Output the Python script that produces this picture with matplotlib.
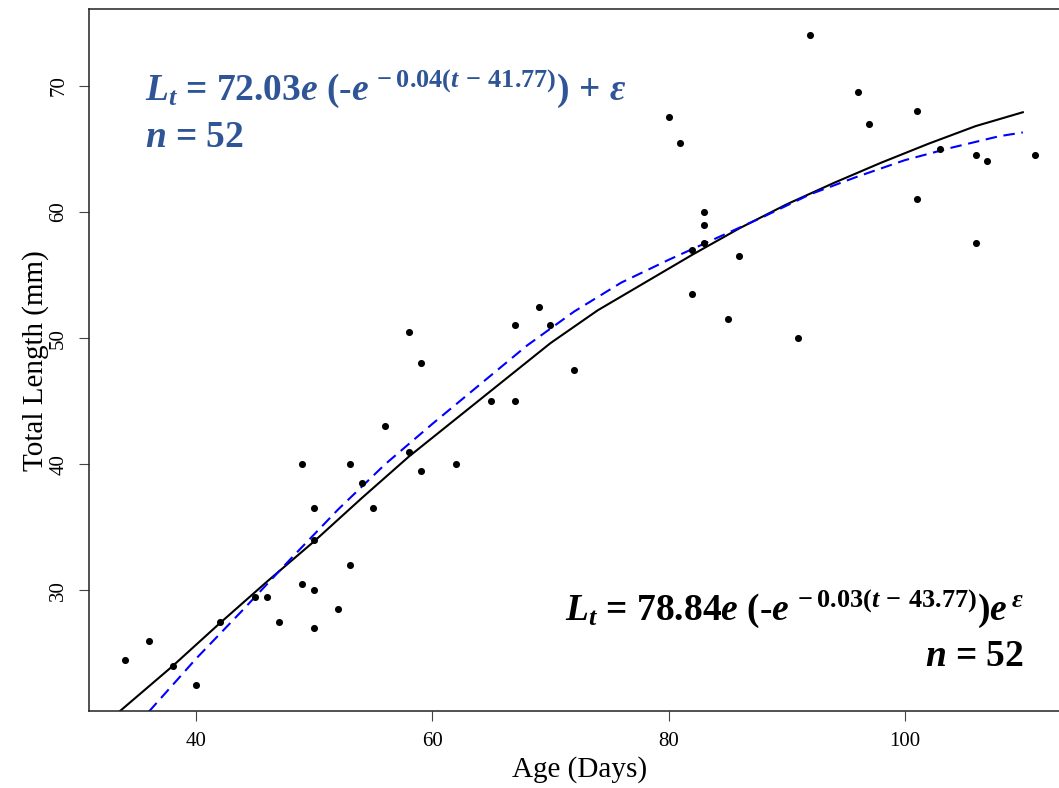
import matplotlib
matplotlib.use("Agg")
import matplotlib.pyplot as plt

plt.rcParams['font.family'] = ['Liberation Serif', 'DejaVu Serif']
plt.rcParams['mathtext.fontset'] = 'custom'
plt.rcParams['mathtext.rm'] = 'Liberation Serif:bold'
plt.rcParams['mathtext.it'] = 'Liberation Serif:bold:italic'
plt.rcParams['mathtext.bf'] = 'Liberation Serif:bold'

# observed fish: age (days) vs total length (mm)
age = [34, 36, 38, 40, 42, 45, 46, 47, 49, 49, 50, 50, 50, 50, 52, 53, 53,
       54, 55, 56, 58, 58, 59, 59, 62, 65, 67, 67, 69, 70, 72, 80, 81, 82,
       82, 83, 83, 83, 85, 86, 91, 92, 96, 97, 101, 101, 103, 106, 106, 107, 111]
length = [24.5, 26, 24, 22.5, 27.5, 29.5, 29.5, 27.5, 40, 30.5, 36.5, 34, 30, 27,
          28.5, 40, 32, 38.5, 36.5, 43, 41, 50.5, 48, 39.5, 40, 45, 45, 51, 52.5,
          51, 47.5, 67.5, 65.5, 57, 53.5, 60, 59, 57.5, 51.5, 56.5, 50, 74, 69.5,
          67, 68, 61, 65, 64.5, 57.5, 64, 64.5]

# fitted curve: multiplicative error model (solid black)
mult_age = [33.5, 38, 42, 46, 50, 54, 58, 62, 66, 70, 74, 78, 82, 86, 90, 94,
            98, 102, 106, 110]
mult_len = [20.4, 24.0, 27.4, 30.7, 33.9, 37.3, 40.6, 43.6, 46.6, 49.6, 52.2,
            54.4, 56.6, 58.7, 60.6, 62.3, 63.9, 65.4, 66.8, 67.9]

# additive error model (dashed blue)
add_age = [36, 40, 44, 48, 52, 56, 60, 64, 68, 72, 76, 80, 84, 88, 92, 96,
           100, 104, 108, 110]
add_len = [20.4, 24.6, 28.5, 32.5, 36.4, 40.0, 43.2, 46.3, 49.4, 52.1, 54.4,
           56.2, 57.9, 59.6, 61.4, 62.8, 64.1, 65.1, 66.0, 66.3]

W, H = 1059, 788
fig = plt.figure(figsize=(W / 100, H / 100), dpi=100)
ax = fig.add_axes([89 / W, 1 - 711 / H, (1071 - 89) / W, (711 - 9.3) / H])

ax.plot(mult_age, mult_len, color='black', lw=1.5, zorder=2)
ax.plot(add_age, add_len, color='blue', lw=1.5, dashes=(5.5, 3.2), zorder=2)
ax.scatter(age, length, s=26, color='black', zorder=3, linewidths=0)

ax.set_xlim(30.92, 114.08)
ax.set_ylim(20.44, 76.06)
ax.set_xticks([40, 60, 80, 100])
ax.set_yticks([30, 40, 50, 60, 70])
ax.tick_params(direction='out', length=7, width=0.8, color='#444444',
               labelsize=15, pad=8)
for lab in ax.get_yticklabels():
    lab.set_rotation(90)
    lab.set_va('center')
for sp in ax.spines.values():
    sp.set_linewidth(1.1)
    sp.set_color('#222222')

ax.set_xlabel('Age (Days)', fontsize=21, labelpad=4)
ax.set_ylabel('Total Length (mm)', fontsize=21, labelpad=0)

blue = '#2f5597'
eq_add = r'$L_t$ = 72.03$e$ (-$e^{\,-0.04(t\,-\,41.77)}$) + $\varepsilon$'
eq_mult = r'$L_t$ = 78.84$e$ (-$e^{\,-0.03(t\,-\,43.77)}$)$e^{\,\varepsilon}$'

fig.text(145 / W, 1 - 100 / H, eq_add, color=blue, fontsize=27,
         fontweight='bold', ha='left', va='baseline')
fig.text(145 / W, 1 - 147 / H, r'$n$ = 52', color=blue, fontsize=27,
         fontweight='bold', ha='left', va='baseline')

fig.text(1024 / W, 1 - 620 / H, eq_mult, color='black', fontsize=27,
         fontweight='bold', ha='right', va='baseline')
fig.text(1024 / W, 1 - 666 / H, r'$n$ = 52', color='black', fontsize=27,
         fontweight='bold', ha='right', va='baseline')

fig.savefig('out.png', dpi=100)
